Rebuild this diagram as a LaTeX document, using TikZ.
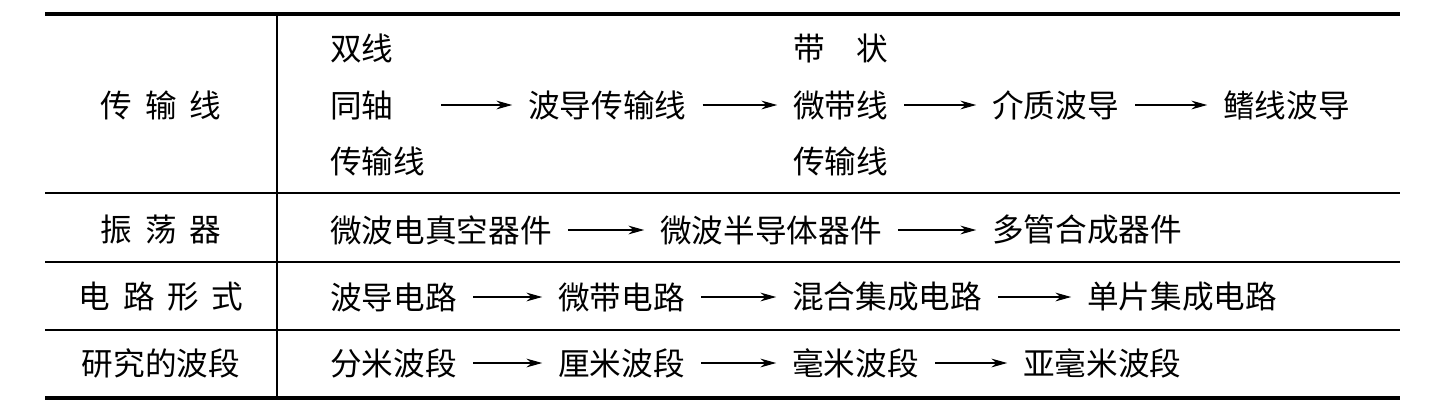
\documentclass[tikz,border=0pt]{standalone}
\usepackage{fontspec}
\setmainfont{Noto Sans CJK SC}
\usetikzlibrary{arrows.meta}
\tikzset{
  cell/.style={anchor=west, inner sep=0pt, font=\fontsize{18}{32}\selectfont, align=left},
  head/.style={inner sep=0pt, font=\fontsize{18}{32}\selectfont},
  flow/.style={-{Stealth[length=9pt,width=5pt]}, line width=0.6pt, shorten <=15\pgflinewidth, shorten >=15\pgflinewidth},
  thick rule/.style={line width=1.8pt},
  thin rule/.style={line width=0.6pt}
}
\newcommand{\gp}{\hspace{0.4em}}
\begin{document}
\begin{tikzpicture}[x=0.02cm,y=-0.02cm]
\useasboundingbox (0,0) rectangle (1444,410);
% rules
\draw[thick rule] (45,14) -- (1400,14);
\draw[thick rule] (45,398) -- (1400,398);
\draw[thin rule] (45,193) -- (1400,193);
\draw[thin rule] (45,262) -- (1400,262);
\draw[thin rule] (45,330) -- (1400,330);
\draw[thin rule] (277,14) -- (277,398);
% left column
\node[head] (hline) at (161,105) {传\gp 输\gp 线};
\node[head] (hosc) at (161,230) {振\gp 荡\gp 器};
\node[head] (hcirc) at (161,297) {电\gp 路\gp 形\gp 式};
\node[head] (hband) at (161,363) {研究的波段};
% row 1
\node[cell] (coax) at (330,105) {双线\\同轴\\传输线};
\node[cell] (wg) at (528,105) {波导传输线};
\node[cell] (strip) at (793,105) {带\hspace{1em}状\\微带线\\传输线};
\node[cell] (diel) at (992,105) {介质波导};
\node[cell] (fin) at (1223,105) {鳍线波导};
\draw[flow] (coax) -- (wg);
\draw[flow] (wg) -- (strip);
\draw[flow] (strip) -- (diel);
\draw[flow] (diel) -- (fin);
% row 2
\node[cell] (vac) at (330,230) {微波电真空器件};
\node[cell] (semi) at (660,230) {微波半导体器件};
\node[cell] (multi) at (992,230) {多管合成器件};
\draw[flow] (vac) -- (semi);
\draw[flow] (semi) -- (multi);
% row 3
\node[cell] (wgc) at (330,297) {波导电路};
\node[cell] (msc) at (558,297) {微带电路};
\node[cell] (hyb) at (792,297) {混合集成电路};
\node[cell] (mono) at (1087,297) {单片集成电路};
\draw[flow] (wgc) -- (msc);
\draw[flow] (msc) -- (hyb);
\draw[flow] (hyb) -- (mono);
% row 4
\node[cell] (dm) at (330,363) {分米波段};
\node[cell] (cm) at (558,363) {厘米波段};
\node[cell] (mm) at (792,363) {毫米波段};
\node[cell] (submm) at (1023,363) {亚毫米波段};
\draw[flow] (dm) -- (cm);
\draw[flow] (cm) -- (mm);
\draw[flow] (mm) -- (submm);
\end{tikzpicture}
\end{document}
